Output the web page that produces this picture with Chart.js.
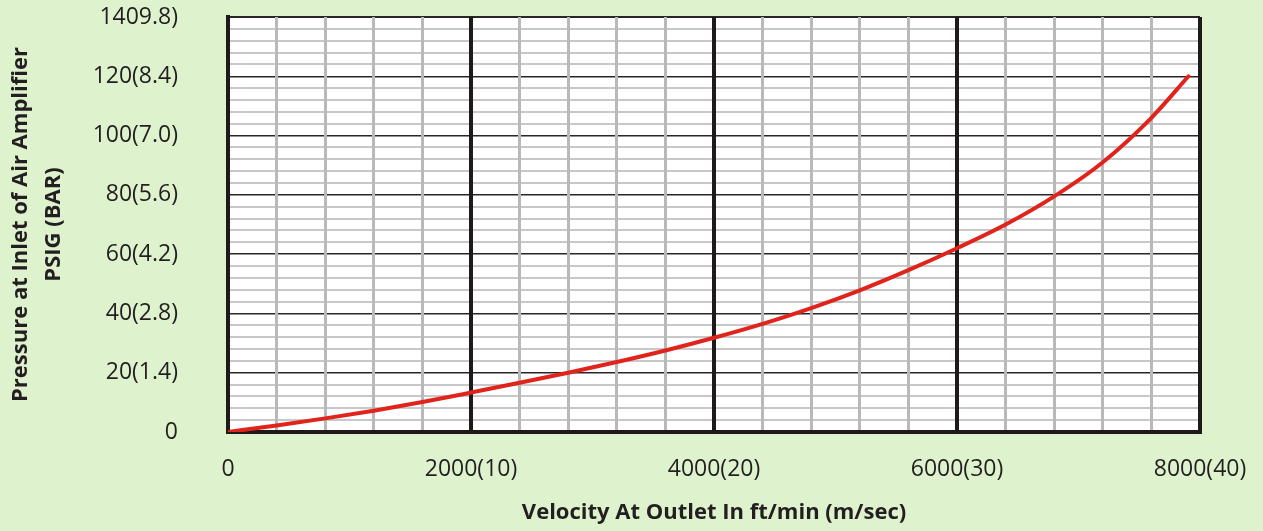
<!DOCTYPE html>
<html>
<head>
<meta charset="utf-8">
<script src="https://cdn.jsdelivr.net/npm/chart.js@4/dist/chart.umd.min.js"></script>
<style>
  html, body { margin: 0; padding: 0; background: #def2ce; }
  #wrap { width: 1263px; height: 531px; }
</style>
</head>
<body>
<div id="wrap"><canvas id="line-chart"></canvas></div>
<script>
// velocity (ft/min) and inlet pressure (psig)
var velocity = [0, 400, 800, 1200, 1600, 2000, 2400, 2800, 3200, 3600, 4000, 4400, 4800, 5200, 5600, 6000, 6400, 6800, 7200, 7600, 7905];
var pressure = [0, 2.2, 4.6, 7.2, 10.1, 13.3, 16.6, 20.0, 23.6, 27.5, 31.8, 36.5, 41.8, 47.8, 54.6, 62.0, 70.0, 79.5, 91.0, 106.0, 120];

var xTickLabels = ['0', '2000(10)', '4000(20)', '6000(30)', '8000(40)'];
var yTickLabels = ['0', '20(1.4)', '40(2.8)', '60(4.2)', '80(5.6)', '100(7.0)', '120(8.4)', '1409.8)'];

var points = [];
for (let i = 0; i < velocity.length; i++) {
  points.push({x: velocity[i], y: pressure[i]});
}

var plotBg = {
  id: 'plotBg',
  beforeDraw(chart) {
    var c = chart.ctx, a = chart.chartArea;
    c.save();
    c.fillStyle = '#def2ce';
    c.fillRect(0, 0, chart.width, chart.height);
    c.fillStyle = '#ffffff';
    c.fillRect(a.left, a.top, a.right - a.left, a.bottom - a.top);
    c.restore();
  }
};

var tickFont = {family: 'Open Sans', size: 23};
var titleFont = {family: 'Open Sans', size: 22, weight: 'bold', lineHeight: 1.5};

new Chart(document.getElementById('line-chart'), {
  type: 'line',
  data: {
    datasets: [{
      data: points,
      borderColor: '#e0241c',
      borderWidth: 4,
      borderCapStyle: 'round',
      pointRadius: 0,
      fill: false,
      cubicInterpolationMode: 'monotone'
    }]
  },
  plugins: [plotBg],
  options: {
    responsive: true,
    maintainAspectRatio: false,
    animation: false,
    layout: {
      padding: {left: 0, top: 17, right: 63, bottom: 0}
    },
    plugins: {
      legend: {display: false},
      tooltip: {enabled: false}
    },
    scales: {
      x: {
        type: 'linear',
        min: 0,
        max: 8000,
        afterFit: function(scale) {
          scale.height = 99;
          scale.paddingLeft = 0;
          scale.paddingRight = 0;
        },
        grid: {
          drawTicks: false,
          z: -1,
          color: function(ctx) {
            return ctx.tick && ctx.tick.value % 2000 === 0 ? '#1e1a1a' : '#b9b9b9';
          },
          lineWidth: function(ctx) {
            return ctx.tick && ctx.tick.value % 2000 === 0 ? 4 : 3;
          }
        },
        border: {color: '#1e1a1a', width: 4},
        ticks: {
          stepSize: 400,
          autoSkip: false,
          maxRotation: 0,
          padding: 24,
          color: '#231f20',
          font: tickFont,
          callback: function(v) {
            return v % 2000 === 0 ? xTickLabels[v / 2000] : '';
          }
        },
        title: {
          display: true,
          text: 'Velocity At Outlet In ft/min (m/sec)',
          color: '#231f20',
          font: titleFont,
          padding: {top: 0, bottom: 2}
        }
      },
      y: {
        min: 0,
        max: 140,
        afterFit: function(scale) {
          scale.width = 228;
          scale.paddingTop = 0;
          scale.paddingBottom = 0;
        },
        grid: {
          drawTicks: false,
          z: -2,
          color: function(ctx) {
            return ctx.tick && ctx.tick.value % 20 === 0 ? '#2a2626' : '#c8c8c8';
          },
          lineWidth: function(ctx) {
            if (ctx.tick && ctx.tick.value === 140) return 2;
            return ctx.tick && ctx.tick.value % 20 === 0 ? 1.5 : 2;
          }
        },
        border: {color: '#1e1a1a', width: 4},
        ticks: {
          stepSize: 4,
          autoSkip: false,
          padding: 50,
          color: '#231f20',
          font: tickFont,
          callback: function(v) {
            return v % 20 === 0 ? yTickLabels[v / 20] : '';
          }
        },
        title: {
          display: true,
          text: ['Pressure at Inlet of Air Amplifier', 'PSIG (BAR)'],
          color: '#231f20',
          font: titleFont,
          padding: {top: 4, bottom: 0}
        }
      }
    }
  }
});
</script>
</body>
</html>
